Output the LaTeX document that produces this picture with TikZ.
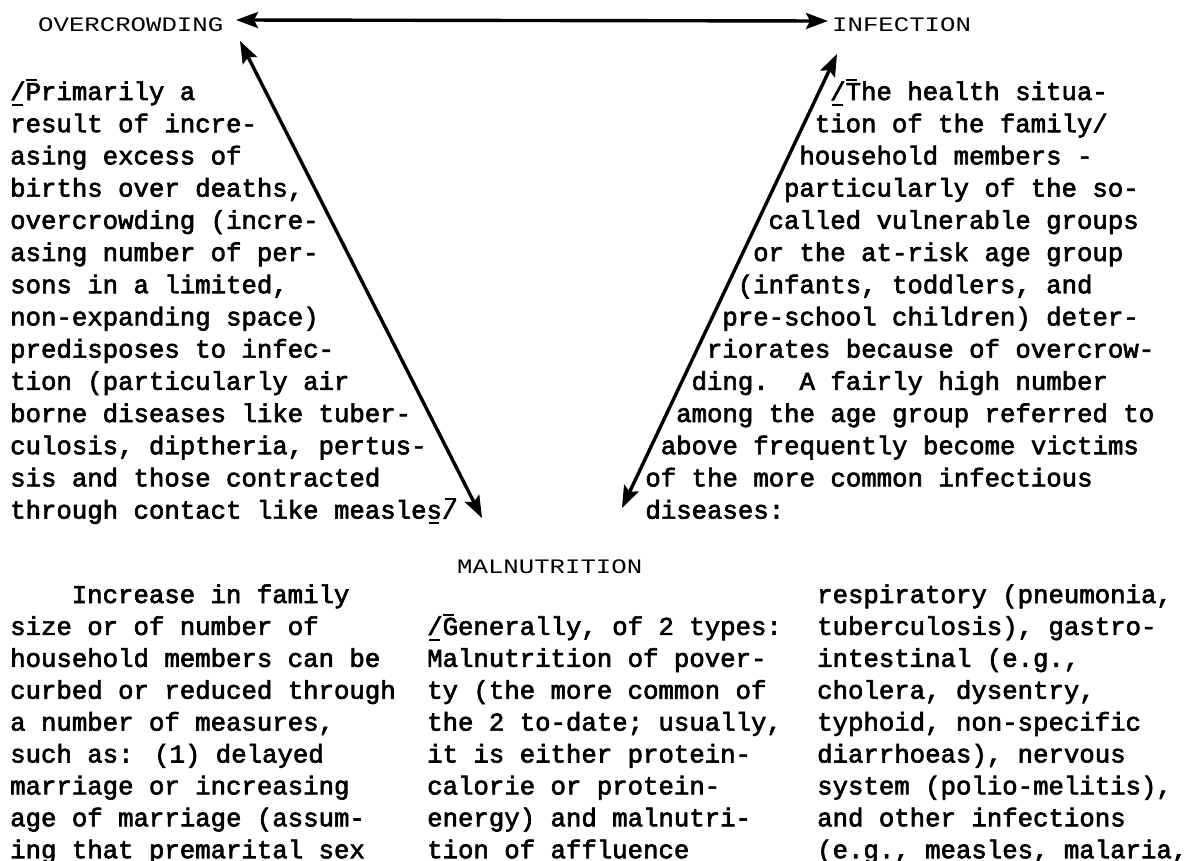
\documentclass[tikz,border=0pt]{standalone}
\usepackage{fontspec}
\usepackage{graphicx}
\usetikzlibrary{arrows.meta}
\newfontfamily\twb{Liberation Mono}[FakeBold=2.5]
\newfontfamily\twl{Liberation Mono}
\newcommand\lbrk{\rlap{\kern0.08em\rule[-0.22em]{0.42em}{0.07em}}\rlap{\kern0.62em\rule[0.74em]{0.42em}{0.07em}}/}
\newcommand\rbrk{\rlap{\kern-0.52em\rule[-0.22em]{0.42em}{0.07em}}\rlap{\kern0.12em\rule[0.74em]{0.42em}{0.07em}}/}
\tikzset{
  txt/.style={anchor=base west, inner sep=0pt, font=\twb\fontsize{25.7pt}{31.5pt}\selectfont},
  lbl/.style={anchor=base west, inner sep=0pt, font=\twl\fontsize{25.7pt}{31.5pt}\selectfont},
  link/.style={line width=3.4pt, {Stealth[length=22pt,width=16pt,inset=4pt]}-{Stealth[length=22pt,width=16pt,inset=4pt]}}
}
\begin{document}
\begin{tikzpicture}[x=1pt,y=-1pt]
\useasboundingbox (0,0) rectangle (1202,860);
% labels
\node[lbl] (over) at (38,31) {\scalebox{1}[0.8]{OVERCROWDING}};
\node[lbl] (inf) at (832,31) {\scalebox{1}[0.8]{INFECTION}};
\node[lbl] (mal) at (457,573) {\scalebox{1}[0.8]{MALNUTRITION}};
% left paragraph
\node[txt] (a1) at (10,100) {\lbrk Primarily a};
\node[txt] (a2) at (10,132.2) {result of incre-};
\node[txt] (a3) at (10,164.4) {asing excess of};
\node[txt] (a4) at (10,196.6) {births over deaths,};
\node[txt] (a5) at (10,228.8) {overcrowding (incre-};
\node[txt] (a6) at (10,261) {asing number of per-};
\node[txt] (a7) at (10,293.2) {sons in a limited,};
\node[txt] (a8) at (10,325.4) {non-expanding space)};
\node[txt] (a9) at (10,357.6) {predisposes to infec-};
\node[txt] (a10) at (10,389.8) {tion (particularly air};
\node[txt] (a11) at (10,422) {borne diseases like tuber-};
\node[txt] (a12) at (10,454.2) {culosis, diptheria, pertus-};
\node[txt] (a13) at (10,486.4) {sis and those contracted};
\node[txt] (a14) at (10,518.6) {through contact like measles\rbrk};
% right paragraph
\node[txt] (b1) at (830,100) {\lbrk The health situa-};
\node[txt] (b2) at (814.6,132.2) {tion of the family/};
\node[txt] (b3) at (799.2,164.4) {household members -};
\node[txt] (b4) at (783.8,196.6) {particularly of the so-};
\node[txt] (b5) at (768.4,228.8) {called vulnerable groups};
\node[txt] (b6) at (753,261) {or the at-risk age group};
\node[txt] (b7) at (737.6,293.2) {(infants, toddlers, and};
\node[txt] (b8) at (722.2,325.4) {pre-school children) deter-};
\node[txt] (b9) at (706.8,357.6) {riorates because of overcrow-};
\node[txt] (b10) at (691.4,389.8) {ding.\ \ A fairly high number};
\node[txt] (b11) at (676,422) {among the age group referred to};
\node[txt] (b12) at (660.6,454.2) {above frequently become victims};
\node[txt] (b13) at (645.2,486.4) {of the more common infectious};
\node[txt] (b14) at (645.2,518.6) {diseases:};
% bottom column 1
\node[txt] (c1) at (71.6,603) {Increase in family};
\node[txt] (c2) at (10,634.9) {size or of number of};
\node[txt] (c3) at (10,666.8) {household members can be};
\node[txt] (c4) at (10,698.7) {curbed or reduced through};
\node[txt] (c5) at (10,730.6) {a number of measures,};
\node[txt] (c6) at (10,762.5) {such as: (1) delayed};
\node[txt] (c7) at (10,794.4) {marriage or increasing};
\node[txt] (c8) at (10,826.3) {age of marriage (assum-};
\node[txt] (c9) at (10,858.2) {ing that premarital sex};
% bottom column 2
\node[txt] (d2) at (427,634.9) {\lbrk Generally, of 2 types:};
\node[txt] (d3) at (427,666.8) {Malnutrition of pover-};
\node[txt] (d4) at (427,698.7) {ty (the more common of};
\node[txt] (d5) at (427,730.6) {the 2 to-date; usually,};
\node[txt] (d6) at (427,762.5) {it is either protein-};
\node[txt] (d7) at (427,794.4) {calorie or protein-};
\node[txt] (d8) at (427,826.3) {energy) and malnutri-};
\node[txt] (d9) at (427,858.2) {tion of affluence};
% bottom column 3
\node[txt] (e1) at (817,603) {respiratory (pneumonia,};
\node[txt] (e2) at (817,634.9) {tuberculosis), gastro-};
\node[txt] (e3) at (817,666.8) {intestinal (e.g.,};
\node[txt] (e4) at (817,698.7) {cholera, dysentry,};
\node[txt] (e5) at (817,730.6) {typhoid, non-specific};
\node[txt] (e6) at (817,762.5) {diarrhoeas), nervous};
\node[txt] (e7) at (817,794.4) {system (polio-melitis),};
\node[txt] (e8) at (817,826.3) {and other infections};
\node[txt] (e9) at (817,858.2) {(e.g., measles, malaria,};
% connector ends
\coordinate (hL) at (236,20);
\coordinate (hR) at (828,21);
\coordinate (lT) at (240,41);
\coordinate (lB) at (482,518);
\coordinate (rT) at (837,54);
\coordinate (rB) at (622,508);
\draw[link] (hL) -- (hR);
\draw[link] (lT) -- (lB);
\draw[link] (rT) -- (rB);
\end{tikzpicture}
\end{document}
